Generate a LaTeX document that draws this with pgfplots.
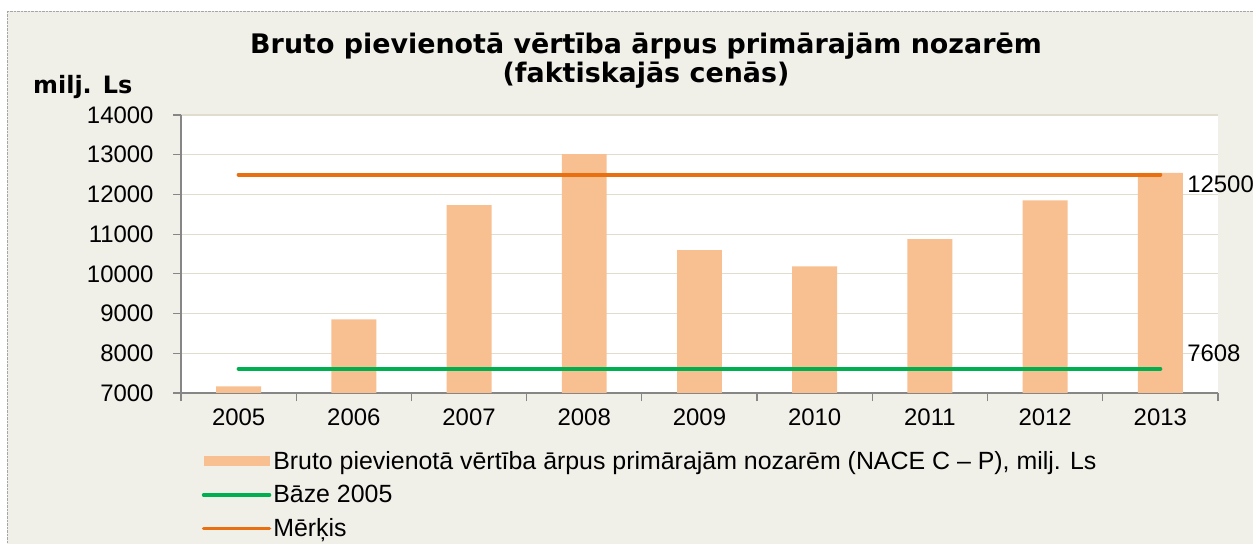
\documentclass[border=0pt]{standalone}
\usepackage{fontspec}
\setmainfont{Liberation Sans}
\newfontfamily\titlefont{DejaVu Sans}
\usepackage{pgfplots}
\pgfplotsset{compat=1.18}

\definecolor{bgc}{RGB}{240,239,232}
\definecolor{gridc}{RGB}{224,221,206}
\definecolor{barc}{RGB}{248,192,144}
\definecolor{orangec}{RGB}{232,112,16}
\definecolor{greenc}{RGB}{0,176,80}
\definecolor{axisc}{RGB}{134,134,134}

\begin{document}
\begin{tikzpicture}
\useasboundingbox (0,0) rectangle (1253bp,544bp);
\fill[white] (0,0) rectangle (1253bp,544bp);
\fill[bgc] (7bp,0) rectangle (1253bp,533bp);
\draw[gray!70, densely dotted] (7bp,0) -- (7bp,533bp) -- (1253bp,533bp);

% title and unit
\node[font=\titlefont\bfseries\fontsize{27}{29}\selectfont, align=center]
  at (646bp,483bp) {Bruto pievienotā vērtība ārpus primārajām nozarēm\\(faktiskajās cenās)};
\node[font=\titlefont\bfseries\fontsize{24}{28}\selectfont, anchor=west, inner sep=0pt]
  at (33bp,457bp) {milj. Ls};

\begin{axis}[
  at={(181bp,151bp)}, anchor=south west,
  scale only axis, width=1037bp, height=278bp,
  xmin=-0.5, xmax=8.5, ymin=7000, ymax=14000,
  ytick={7000,8000,...,14000},
  xtick={0,...,8},
  xticklabels={2005,2006,2007,2008,2009,2010,2011,2012,2013},
  minor xtick={-0.5,0.5,...,8.5},
  axis x line*=bottom, axis y line*=left,
  axis line style={axisc, line width=1.2bp, -},
  tick align=outside,
  major tick length=8bp, minor tick length=8bp,
  major x tick style={draw=none},
  minor x tick style={axisc, line width=1.2bp},
  major y tick style={axisc, line width=1.2bp},
  ymajorgrids, grid style={gridc, line width=1.2bp},
  axis background/.style={fill=white},
  tick label style={font=\fontsize{24}{28}\selectfont, black},
  /pgf/number format/assume math mode=true,
  scaled y ticks=false,
  yticklabel style={/pgf/number format/1000 sep={}, xshift=-16bp},
  xticklabel style={yshift=-4bp},
  legend style={at={(axis description cs:0.017,-0.195)}, anchor=north west,
    draw=none, fill=none, font=\fontsize{25}{28}\selectfont,
    nodes={inner sep=2bp}, row sep=10.5bp},
  legend cell align=left,
]
\addplot[ybar, bar width=0.39, fill=barc, draw=none,
  legend image code/.code={\fill[barc] (0bp,-5bp) rectangle (66bp,5bp);}]
  coordinates {(0,7166) (1,8855) (2,11730) (3,13015) (4,10597)
               (5,10187) (6,10874) (7,11850) (8,12545)};
\addlegendentry{Bruto pievienotā vērtība  ārpus primārajām nozarēm (NACE C – P), milj. Ls}

\addplot[greenc, line width=4bp, line cap=round,
  nodes near coords, point meta=explicit symbolic,
  nodes near coords style={anchor=west, black, inner sep=0bp, xshift=25bp, yshift=16bp,
    font=\fontsize{24}{28}\selectfont},
  legend image code/.code={\draw[greenc, line width=3.5bp, line cap=round] (0bp,0bp) -- (66bp,0bp);}]
  coordinates {(0,7608) [] (8,7608) [7608]};
\addlegendentry{Bāze 2005}

\addplot[orangec, line width=4bp, line cap=round,
  nodes near coords, point meta=explicit symbolic,
  nodes near coords style={anchor=west, black, inner sep=0bp, xshift=25bp, yshift=-10bp,
    font=\fontsize{24}{28}\selectfont},
  legend image code/.code={\draw[orangec, line width=3.5bp, line cap=round] (0bp,0bp) -- (66bp,0bp);}]
  coordinates {(0,12500) [] (8,12500) [12500]};
\addlegendentry{Mērķis}
\end{axis}
\end{tikzpicture}
\end{document}
